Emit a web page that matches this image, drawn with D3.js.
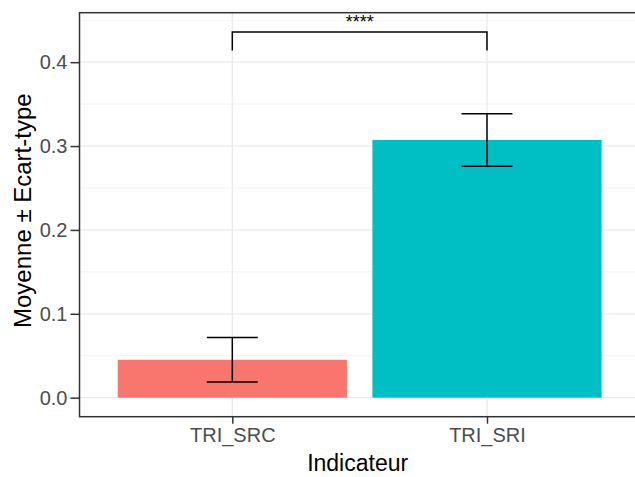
<!DOCTYPE html>
<html>
<head>
<meta charset="utf-8">
<script src="https://cdn.jsdelivr.net/npm/d3@7"></script>
<style>
  html, body { margin: 0; padding: 0; background: #fff; }
  svg { display: block; font-family: "Liberation Sans", Arial, sans-serif; }
</style>
</head>
<body>
<svg id="chart" width="635" height="477"></svg>
<script>
// ---- data ----
const categories = ["TRI_SRC", "TRI_SRI"];
const means = [0.0452, 0.3073];
const sds = [0.0265, 0.0313];
const colors = ["#F8766D", "#00BFC4"];
const yTicks = [0.0, 0.1, 0.2, 0.3, 0.4];
const yMinorTicks = [0.05, 0.15, 0.25, 0.35, 0.45];
const yTickLabels = ["0.0", "0.1", "0.2", "0.3", "0.4"];
const signifPair = ["TRI_SRC", "TRI_SRI"];
const signifY = [0.436];
const signifTip = [0.414];
const signifLabel = ["****"];
const yDomain = [-0.0227, 0.459];

// ---- layout ----
const svg = d3.select("#chart");
const panel = { left: 79.5, right: 639.8, top: 12.7, bottom: 416.7 };

const x = d3.scalePoint().domain(categories).range([panel.left, panel.right]).padding(0.6);
const y = d3.scaleLinear().domain(yDomain).range([panel.bottom, panel.top]);
const step = x.step();

// grid
const g = svg.append("g");
g.selectAll(".minor").data(yMinorTicks.filter(v => v >= yDomain[0] && v <= yDomain[1]))
  .enter().append("line")
  .attr("x1", panel.left).attr("x2", panel.right)
  .attr("y1", d => y(d)).attr("y2", d => y(d))
  .attr("stroke", "#F0F0F0").attr("stroke-width", 0.8);
g.selectAll(".major").data(yTicks)
  .enter().append("line")
  .attr("x1", panel.left).attr("x2", panel.right)
  .attr("y1", d => y(d)).attr("y2", d => y(d))
  .attr("stroke", "#EBEBEB").attr("stroke-width", 1.3);
g.selectAll(".vmajor").data(categories)
  .enter().append("line")
  .attr("x1", d => x(d)).attr("x2", d => x(d))
  .attr("y1", panel.top).attr("y2", panel.bottom)
  .attr("stroke", "#EBEBEB").attr("stroke-width", 1.3);

// bars
g.selectAll(".bar").data(categories)
  .enter().append("rect")
  .attr("x", d => x(d) - 0.45 * step)
  .attr("width", 0.9 * step)
  .attr("y", (d, i) => y(means[i]))
  .attr("height", (d, i) => y(0) - y(means[i]))
  .attr("fill", (d, i) => colors[i]);

// error bars
const eb = g.selectAll(".eb").data(categories).enter().append("g");
eb.append("line")
  .attr("x1", d => x(d)).attr("x2", d => x(d))
  .attr("y1", (d, i) => y(means[i] - sds[i])).attr("y2", (d, i) => y(means[i] + sds[i]));
eb.append("line")
  .attr("x1", d => x(d) - 0.1 * step).attr("x2", d => x(d) + 0.1 * step)
  .attr("y1", (d, i) => y(means[i] + sds[i])).attr("y2", (d, i) => y(means[i] + sds[i]));
eb.append("line")
  .attr("x1", d => x(d) - 0.1 * step).attr("x2", d => x(d) + 0.1 * step)
  .attr("y1", (d, i) => y(means[i] - sds[i])).attr("y2", (d, i) => y(means[i] - sds[i]));
eb.selectAll("line").attr("stroke", "#000").attr("stroke-width", 1.5);

// significance bracket
const x1 = x(signifPair[0]), x2 = x(signifPair[1]);
g.append("path")
  .attr("d", `M${x1},${y(signifTip[0])}L${x1},${y(signifY[0])}L${x2},${y(signifY[0])}L${x2},${y(signifTip[0])}`)
  .attr("fill", "none").attr("stroke", "#000").attr("stroke-width", 1.5);
g.append("text")
  .attr("x", (x1 + x2) / 2).attr("y", y(signifY[0]) - 3.5)
  .attr("text-anchor", "middle")
  .attr("font-size", 18).attr("fill", "#000")
  .text(signifLabel[0]);

// panel border
g.append("rect")
  .attr("x", panel.left).attr("y", panel.top)
  .attr("width", panel.right - panel.left).attr("height", panel.bottom - panel.top)
  .attr("fill", "none").attr("stroke", "#333333").attr("stroke-width", 1.5);

// y axis
const yAxis = d3.axisLeft(y).tickValues(yTicks).tickSize(9).tickPadding(3)
  .tickFormat((d, i) => yTickLabels[i]);
const ya = svg.append("g").attr("transform", `translate(${panel.left},0)`).call(yAxis);
ya.select(".domain").remove();
ya.selectAll(".tick line").attr("stroke", "#333333").attr("stroke-width", 1.5);
ya.selectAll(".tick text").attr("fill", "#4D4D4D").attr("font-size", 20)
  .attr("font-family", "Liberation Sans, Arial, sans-serif");

// x axis
const xAxis = d3.axisBottom(x).tickSize(7).tickPadding(4);
const xa = svg.append("g").attr("transform", `translate(0,${panel.bottom})`).call(xAxis);
xa.select(".domain").remove();
xa.selectAll(".tick line").attr("stroke", "#333333").attr("stroke-width", 1.5);
xa.selectAll(".tick text").attr("fill", "#4D4D4D").attr("font-size", 20)
  .attr("font-family", "Liberation Sans, Arial, sans-serif");

// axis titles
svg.append("text")
  .attr("x", (panel.left + panel.right) / 2 - 2).attr("y", 471)
  .attr("text-anchor", "middle").attr("font-size", 23).attr("fill", "#000")
  .text("Indicateur");
svg.append("text")
  .attr("transform", `translate(31,${(panel.top + panel.bottom) / 2 - 4}) rotate(-90)`)
  .attr("text-anchor", "middle").attr("font-size", 24).attr("fill", "#000")
  .text("Moyenne ± Ecart-type");
</script>
</body>
</html>
